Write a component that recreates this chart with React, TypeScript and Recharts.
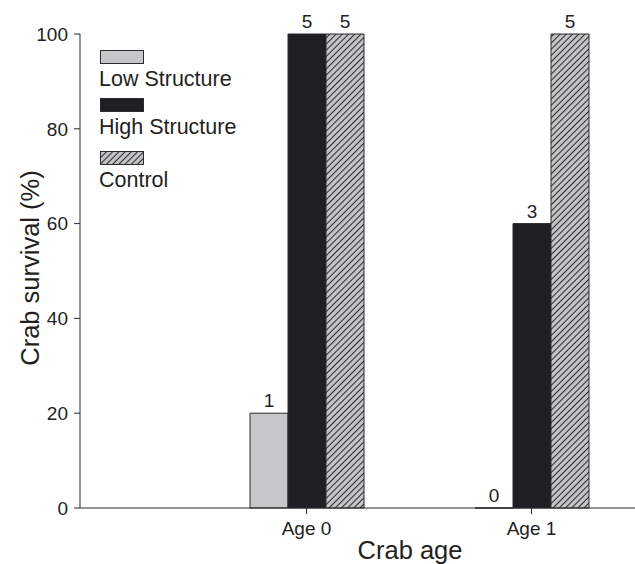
import { BarChart, Bar, XAxis, YAxis, LabelList, Label } from 'recharts';

const categories = ['Age 0', 'Age 1'];
const seriesNames = ['Low Structure', 'High Structure', 'Control'];
// survival (%) per age class
const lowStructure = [20, 0];
const highStructure = [100, 60];
const control = [100, 100];
// number of crabs printed above each bar
const lowN = [1, 0];
const highN = [5, 3];
const controlN = [5, 5];
const yTicks = [0, 20, 40, 60, 80, 100];

const data = categories.map((age, i) => ({
  age,
  low: lowStructure[i],
  high: highStructure[i],
  control: control[i],
  lowN: lowN[i],
  highN: highN[i],
  controlN: controlN[i],
}));

const FONT = '"Liberation Sans", Arial, Helvetica, sans-serif';
const INK = '#231f20';
const EDGE = '#2b2b2d';
const LIGHT = '#c6c7c9';
const DARK = '#1e1f22';

function Hatch({ id }: { id: string }) {
  return (
    <pattern id={id} patternUnits="userSpaceOnUse" width={4.4} height={4.4} patternTransform="rotate(45)">
      <rect width={4.4} height={4.4} fill={LIGHT} />
      <line x1={2.2} y1={0} x2={2.2} y2={4.4} stroke={EDGE} strokeWidth={1.1} />
    </pattern>
  );
}

const legendFills = [LIGHT, DARK, 'url(#hatchLegend)'];
const legendBoxTop = [50, 98, 151];
const legendBaseline = [86, 134, 187];

function YTitle(props: any) {
  const { y, height } = props.viewBox;
  const cy = y + height / 2 - 3;
  return (
    <text
      x={39}
      y={cy}
      transform={`rotate(-90, 39, ${cy})`}
      textAnchor="middle"
      fontSize={25.5}
      fill={INK}
    >
      Crab survival (%)
    </text>
  );
}

// zero-height bars still need a rect so the count label above them is drawn
const keepZero = (v: number) => (v === 0 ? 0.01 : 0);

export default function App() {
  const tick = { fill: INK, fontSize: 19 };
  return (
    <div
      style={{
        position: 'absolute',
        left: 0,
        top: 0,
        width: 635,
        height: 564,
        overflow: 'hidden',
        background: '#fff',
        fontFamily: FONT,
      }}
    >
      <BarChart
        width={740}
        height={564}
        data={data}
        margin={{ top: 34, right: 0, left: 0, bottom: 0 }}
        barGap={0}
        barSize={38}
      >
        <defs>
          <Hatch id="hatchBar" />
        </defs>
        <XAxis
          dataKey="age"
          height={56}
          padding={{ left: 114, right: 96 }}
          tick={tick}
          tickSize={6}
          tickMargin={8}
          axisLine={{ stroke: EDGE }}
          tickLine={{ stroke: EDGE }}
        >
          <Label value="Crab age" position="insideBottom" offset={5} fontSize={25.5} fill={INK} />
        </XAxis>
        <YAxis
          type="number"
          domain={[0, 100]}
          ticks={yTicks}
          interval={0}
          width={80}
          tick={tick}
          tickSize={6}
          tickMargin={6}
          axisLine={{ stroke: EDGE }}
          tickLine={{ stroke: EDGE }}
        >
          <Label content={YTitle} />
        </YAxis>
        <Bar dataKey="low" fill={LIGHT} stroke={EDGE} strokeWidth={1} minPointSize={keepZero} isAnimationActive={false}>
          <LabelList dataKey="lowN" position="top" offset={6} fontSize={19} fill={INK} />
        </Bar>
        <Bar dataKey="high" fill={DARK} stroke={EDGE} strokeWidth={1} isAnimationActive={false}>
          <LabelList dataKey="highN" position="top" offset={6} fontSize={19} fill={INK} />
        </Bar>
        <Bar dataKey="control" fill="url(#hatchBar)" stroke={EDGE} strokeWidth={1} isAnimationActive={false}>
          <LabelList dataKey="controlN" position="top" offset={6} fontSize={19} fill={INK} />
        </Bar>
      </BarChart>
      <svg width={260} height={200} style={{ position: 'absolute', left: 0, top: 0 }}>
        <defs>
          <Hatch id="hatchLegend" />
        </defs>
        {seriesNames.map((name, i) => (
          <g key={name}>
            <rect
              x={100.5}
              y={legendBoxTop[i] + 0.5}
              width={43}
              height={13}
              fill={legendFills[i]}
              stroke={EDGE}
              strokeWidth={1}
            />
            <text x={99} y={legendBaseline[i]} fontSize={21.5} fill={INK}>
              {name}
            </text>
          </g>
        ))}
      </svg>
    </div>
  );
}
